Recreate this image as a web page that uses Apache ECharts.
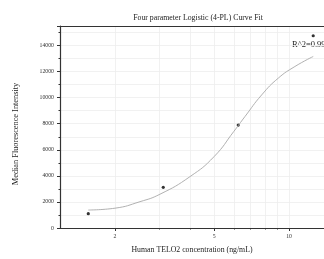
<!DOCTYPE html>
<html>
<head>
<meta charset="UTF-8">
<title></title>
<script src="https://cdn.jsdelivr.net/npm/echarts@6/dist/echarts.min.js"></script>
</head>
<body style="margin:0;background:#fff;">
<div id="container" style="width:324px;height:259px;"></div>
<script>
// measured points (ng/mL vs MFI)
var concentration = [1.5625, 3.125, 6.25, 12.5];
var mfi = [1100, 3120, 7900, 14750];
// fitted 4-PL curve
var fitX = [1.5625, 2.0, 2.52, 3.03, 4.0, 5.0, 6.0, 6.65, 7.76, 9.05, 10.55, 12.5];
var fitY = [1380, 1520, 2020, 2590, 3940, 5480, 7410, 8550, 10210, 11500, 12390, 13160];
var majorTicks = [2, 5, 10];
var minorTicks = [3, 4, 6, 7, 8, 9];
var rSquared = 'R^2=0.997';

var serif = 'Liberation Serif';
var xMin = 1.203, xMax = 13.81;
var dom = document.getElementById('container');
var myChart = echarts.init(dom);

function pairs(xs, ys) {
    var out = [];
    for (var i = 0; i < xs.length; i++) out.push([xs[i], ys[i]]);
    return out;
}

var option = {
    animation: false,
    title: {
        text: 'Four parameter Logistic (4-PL) Curve Fit',
        left: 193,
        top: 9,
        textAlign: 'center',
        textStyle: {fontFamily: serif, fontSize: 7.8, fontWeight: 'normal', color: '#222'}
    },
    grid: {left: 60, right: 0, top: 26, bottom: 31},
    xAxis: [{
        type: 'log',
        logBase: 10,
        min: xMin,
        max: xMax,
        name: 'Human TELO2 concentration (ng/mL)',
        nameLocation: 'middle',
        nameGap: 18,
        nameTextStyle: {fontFamily: serif, fontSize: 7.8, color: '#222'},
        axisLine: {lineStyle: {color: '#333', width: 1.2}},
        axisTick: {customValues: majorTicks, length: 3, lineStyle: {color: '#333'}},
        axisLabel: {customValues: majorTicks, fontFamily: serif, fontSize: 5.8, color: '#333', margin: 5},
        splitLine: {show: true, lineStyle: {color: '#eeeeee', width: 0.8}}
    }, {
        type: 'log',
        logBase: 10,
        min: xMin,
        max: xMax,
        position: 'bottom',
        axisLine: {show: false},
        axisTick: {customValues: minorTicks, length: 1.5, lineStyle: {color: '#333'}},
        axisLabel: {show: false},
        splitLine: {show: true, lineStyle: {color: '#eeeeee', width: 0.8}}
    }, {
        // top frame line
        type: 'log',
        logBase: 10,
        min: xMin,
        max: xMax,
        position: 'top',
        axisLine: {show: true, lineStyle: {color: '#333', width: 1.2}},
        axisTick: {show: false},
        axisLabel: {show: false},
        splitLine: {show: false}
    }],
    yAxis: {
        type: 'value',
        min: 0,
        max: 15500,
        interval: 2000,
        name: 'Median Fluorescence Intensity',
        nameLocation: 'middle',
        nameGap: 40,
        nameTextStyle: {fontFamily: serif, fontSize: 8.3, color: '#222', padding: [0, 14, 0, 0]},
        axisLine: {show: true, lineStyle: {color: '#333', width: 1.2}},
        axisTick: {show: true, length: 3, lineStyle: {color: '#333'}},
        minorTick: {show: true, splitNumber: 2, length: 1.5, lineStyle: {color: '#333'}},
        axisLabel: {
            fontFamily: serif, fontSize: 5.8, color: '#333', margin: 6, showMaxLabel: false,
            formatter: function (v) { return String(v); }
        },
        splitLine: {show: true, lineStyle: {color: '#eeeeee', width: 0.8}},
        minorSplitLine: {show: true, lineStyle: {color: '#eeeeee', width: 0.8}}
    },
    graphic: [{
        type: 'text',
        left: 292,
        top: 40,
        style: {text: rSquared, font: '8.5px "Liberation Serif"', fill: '#222'}
    }],
    series: [{
        name: 'fit',
        type: 'line',
        xAxisIndex: 0,
        data: pairs(fitX, fitY),
        smooth: true,
        showSymbol: false,
        lineStyle: {color: '#a8a8a8', width: 0.9}
    }, {
        name: 'data',
        type: 'scatter',
        xAxisIndex: 0,
        data: pairs(concentration, mfi),
        symbolSize: 3.2,
        itemStyle: {color: '#000'}
    }]
};
myChart.setOption(option);
</script>
</body>
</html>
